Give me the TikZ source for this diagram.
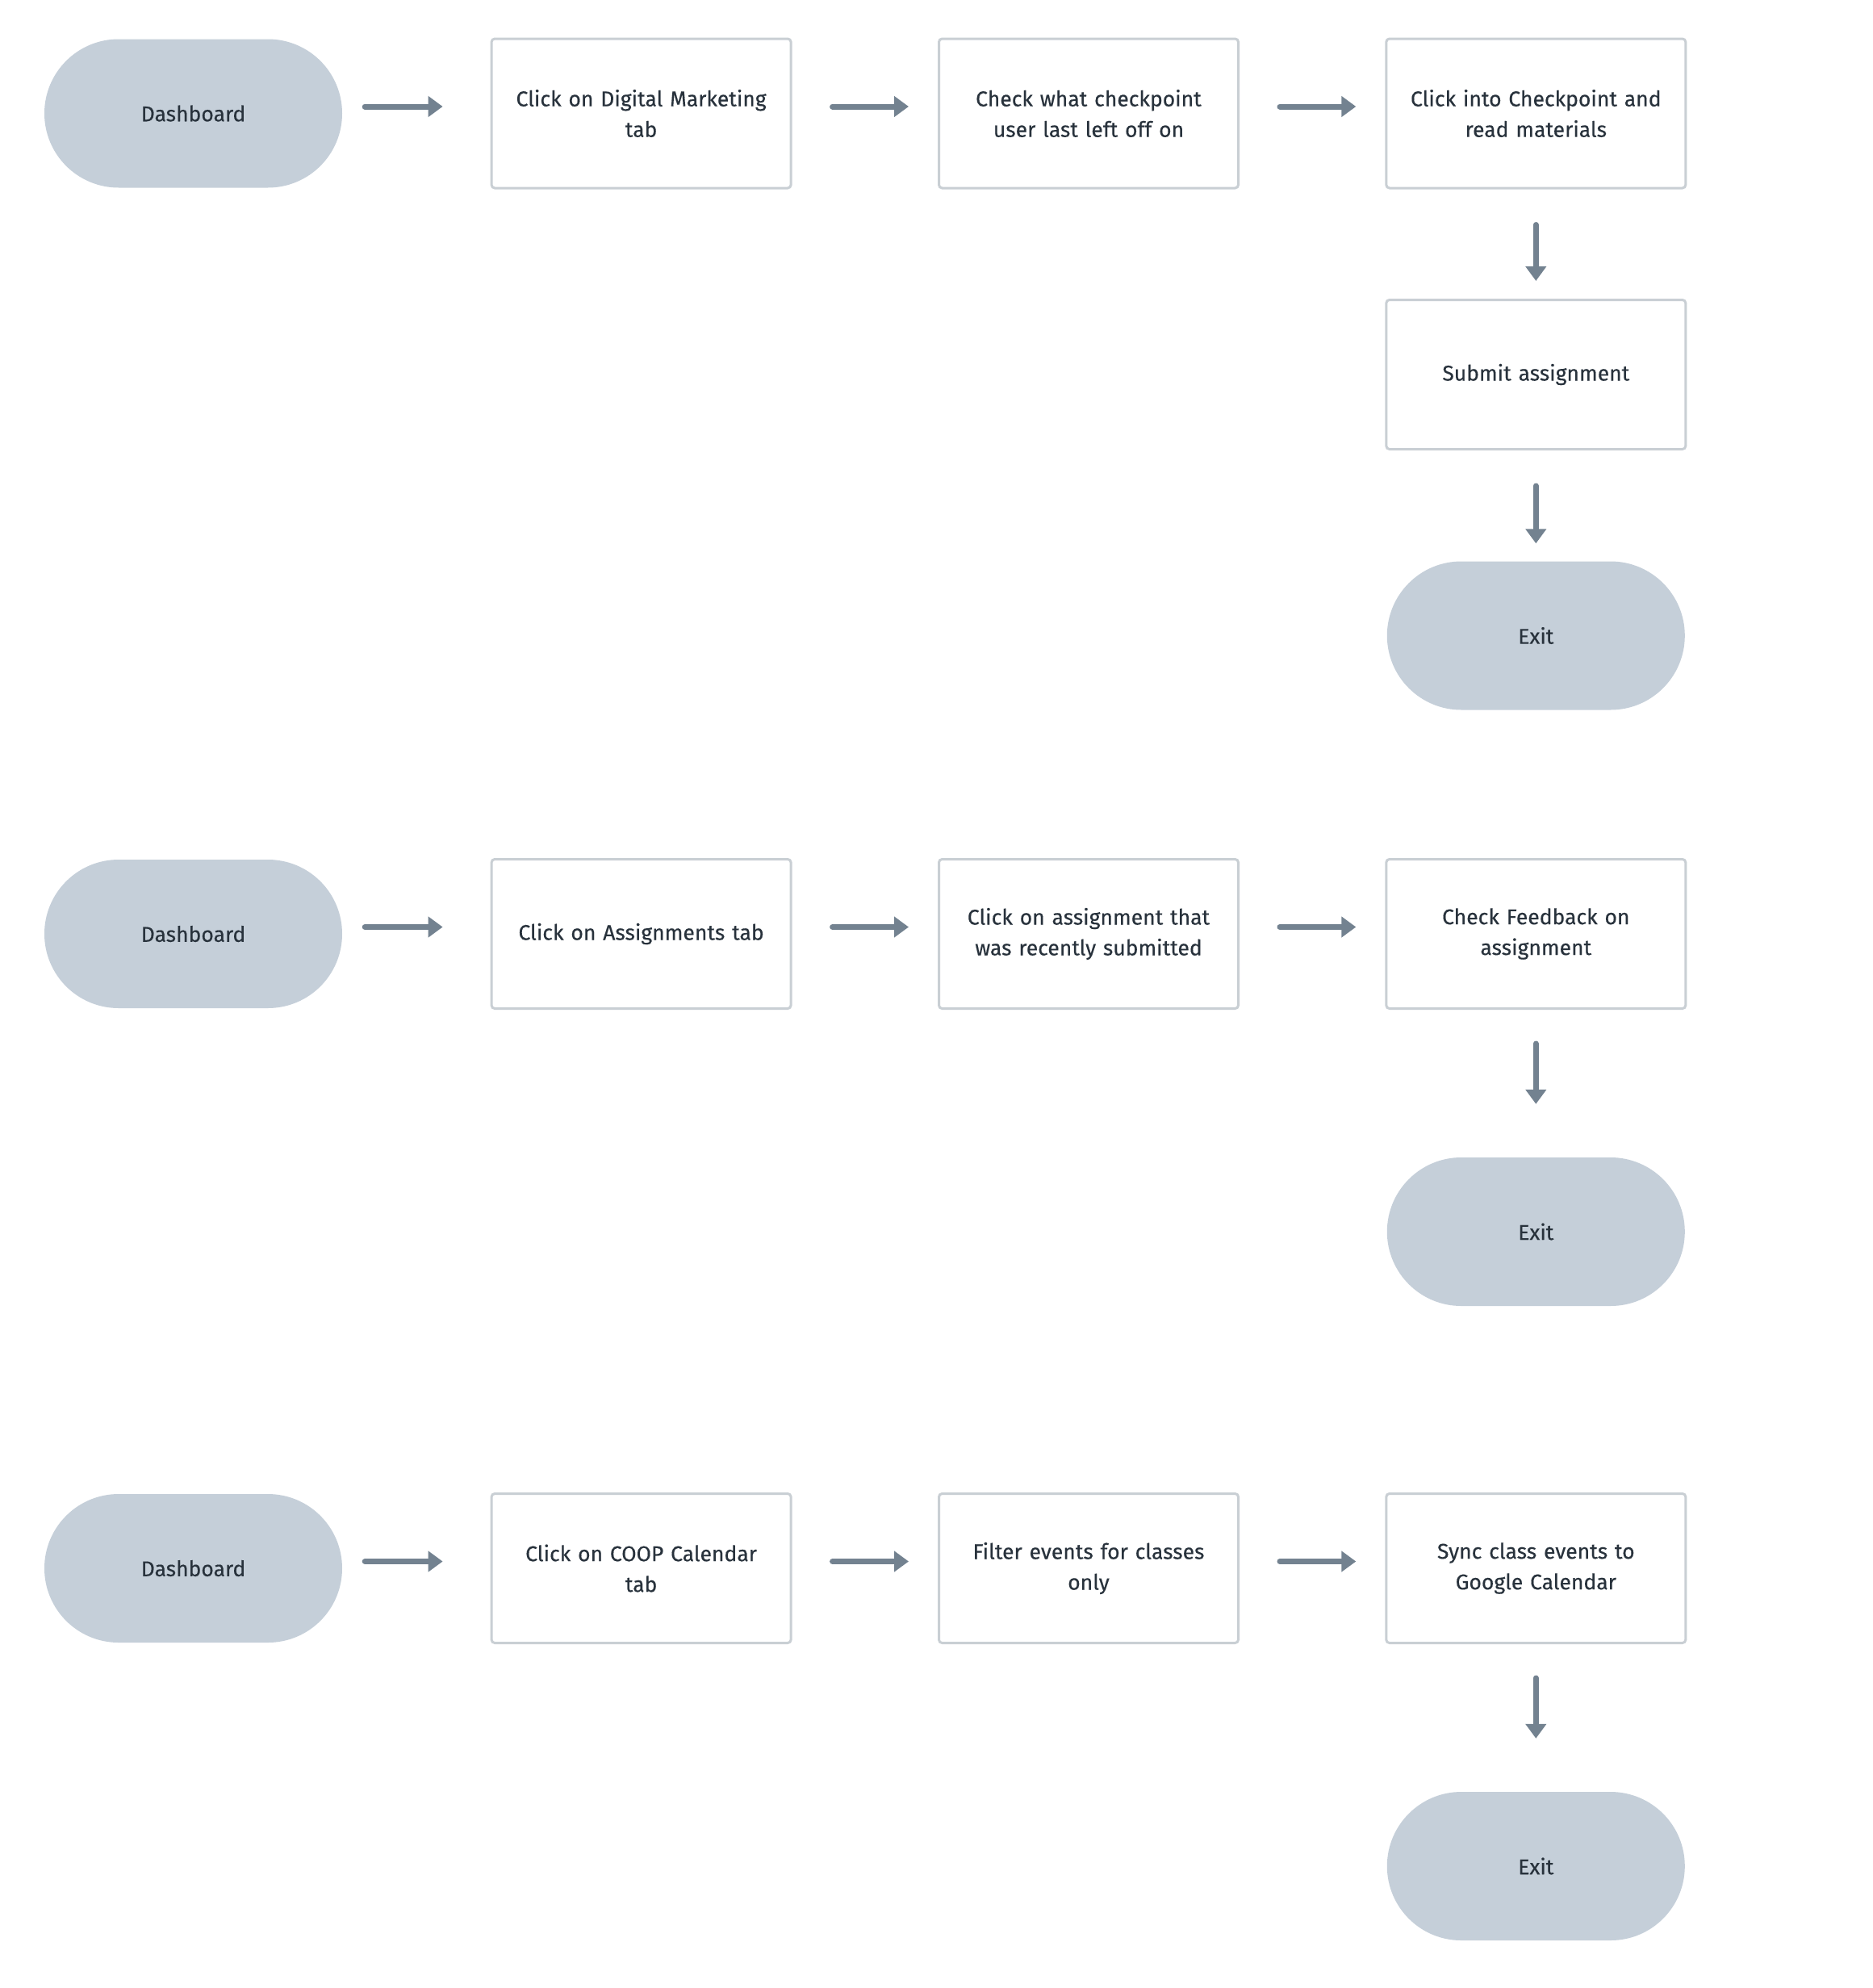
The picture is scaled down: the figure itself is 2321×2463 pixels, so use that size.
\documentclass[tikz,border=0pt]{standalone}
\usepackage{fontspec}
\setmainfont{Fira Sans}[FakeBold=0.35]
\usetikzlibrary{arrows.meta,shapes.misc}
\definecolor{pillc}{HTML}{C5CFD9}
\definecolor{txtc}{HTML}{28323C}
\definecolor{arrc}{HTML}{738290}
\definecolor{boxc}{HTML}{C9CFD4}
\begin{document}
\begin{tikzpicture}[x=1pt,y=-1pt,
  every node/.style={font=\fontsize{26.5}{38}\selectfont, text=txtc, align=center},
  pill/.style={rounded rectangle, fill=pillc, minimum width=369pt, minimum height=184pt, inner sep=0pt},
  stepbox/.style={draw=boxc, line width=3pt, rounded corners=4pt, fill=white, minimum width=371pt, minimum height=185pt, inner sep=0pt, text width=345pt},
  arr/.style={draw=arrc, line width=7pt, line cap=round, -{Triangle[length=18pt,width=25pt]}},
  harr/.style={arr, shorten <=50pt, shorten >=36pt},
  farr/.style={arr, shorten <=28pt, shorten >=59pt},
  varr/.style={arr, shorten <=44pt, shorten >=22pt},
  varrb/.style={arr, shorten <=42pt, shorten >=66pt}
]
\useasboundingbox[fill=white] (0,0) rectangle (2321,2463);
% Row 1
\node[pill] (d1) at (239.5,140.5) {Dashboard};
\node[stepbox] (a1) at (794.6,140.5) {Click on Digital Marketing\\tab};
\node[stepbox] (b1) at (1349,140.5) {Check what checkpoint\\user last left off on};
\node[stepbox] (c1) at (1903.3,140.5) {Click into Checkpoint and\\read materials};
\node[stepbox] (s1) at (1903.3,464) {Submit assignment};
\node[pill] (e1) at (1903.3,787.5) {Exit};
% Row 2
\node[pill] (d2) at (239.5,1157) {Dashboard};
\node[stepbox] (a2) at (794.6,1157) {Click on Assignments tab};
\node[stepbox] (b2) at (1349,1157) {Click on assignment that\\was recently submitted};
\node[stepbox] (c2) at (1903.3,1157) {Check Feedback on\\assignment};
\node[pill] (e2) at (1903.3,1526) {Exit};
% Row 3
\node[pill] (d3) at (239.5,1943) {Dashboard};
\node[stepbox] (a3) at (794.6,1943) {Click on COOP Calendar\\tab};
\node[stepbox] (b3) at (1349,1943) {Filter events for classes\\only};
\node[stepbox] (c3) at (1903.3,1943) {Sync class events to\\Google Calendar};
\node[pill] (e3) at (1903.3,2312) {Exit};
% connectors
\foreach \r in {1,2,3}{
  \draw[farr] ([yshift=8.5pt]d\r.east) -- ([yshift=8.5pt]a\r.west);
  \draw[harr] ([yshift=8.5pt]a\r.east) -- ([yshift=8.5pt]b\r.west);
  \draw[harr] ([yshift=8.5pt]b\r.east) -- ([yshift=8.5pt]c\r.west);
}
\draw[varr] (c1.south) -- (s1.north);
\draw[varr] (s1.south) -- (e1.north);
\draw[varrb] (c2.south) -- (e2.north);
\draw[varrb] (c3.south) -- (e3.north);
\end{tikzpicture}
\end{document}
